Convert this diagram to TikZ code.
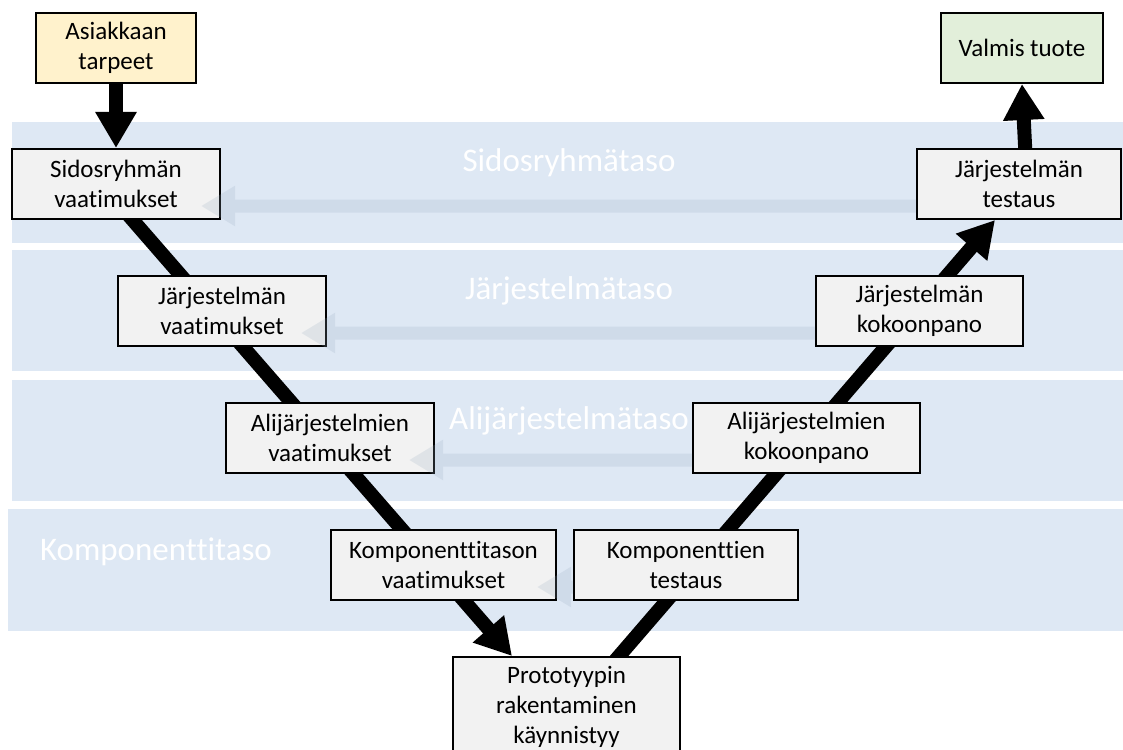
\documentclass[tikz,border=0pt]{standalone}
\usepackage{fontspec}
\setmainfont{Carlito}[Ligatures=NoCommon]
\usetikzlibrary{arrows.meta,calc}
\definecolor{band}{RGB}{222,232,244}
\definecolor{boxgray}{RGB}{242,242,242}
\definecolor{yel}{RGB}{255,242,204}
\definecolor{grn}{RGB}{226,239,218}
\definecolor{ghost}{RGB}{150,170,190}
\pgfdeclarelayer{bands}
\pgfdeclarelayer{lines}
\pgfsetlayers{bands,lines,main}
\begin{document}
\begin{tikzpicture}[x=1pt,y=-1pt,
  stage/.style={draw=black,line width=2pt,fill=boxgray,align=center,inner sep=0pt,
    font=\fontsize{25}{30}\selectfont,minimum height=70pt},
  bandrect/.style={fill=band,draw=none},
  bandlabel/.style={text=white,font=\fontsize{33}{38}\selectfont,inner sep=0pt},
  flow/.style={line width=14pt,-{Triangle[length=36pt,width=39pt]}},
  trace/.style={draw=ghost,line width=13pt,-{Triangle[length=34pt,width=38pt]}}
]
\useasboundingbox (0,0) rectangle (1123,749);
% bands
\begin{pgfonlayer}{bands}
\fill[bandrect] (12,122) rectangle (1123,243);
\fill[bandrect] (12,250) rectangle (1123,371);
\fill[bandrect] (12,380) rectangle (1123,501);
\fill[bandrect] (8,509) rectangle (1123,631);
\node[bandlabel] (lb1) at (569,163) {Sidosryhmätaso};
\node[bandlabel] (lb2) at (569,291) {Järjestelmätaso};
\node[bandlabel] (lb3) at (569,421) {Alijärjestelmätaso};
\node[bandlabel] (lb4) at (156,552) {Komponenttitaso};
\end{pgfonlayer}
% boxes
\node[stage,fill=yel,minimum width=160pt] (asi) at (116,48) {Asiakkaan\\tarpeet};
\node[stage,minimum width=208pt] (sid) at (116,184) {Sidosryhmän\\vaatimukset};
\node[stage,fill=grn,minimum width=162pt] (val) at (1022,48) {Valmis tuote};
\node[stage,minimum width=204pt] (jtest) at (1019,184) {Järjestelmän\\testaus};
\node[stage,minimum width=208pt] (jvaat) at (222,311) {Järjestelmän\\vaatimukset};
\node[stage,minimum width=207pt] (jkok) at (919.5,311) {Järjestelmän\\kokoonpano};
\node[stage,minimum width=208pt] (avaat) at (330,438) {Alijärjestelmien\\vaatimukset};
\node[stage,minimum width=227pt] (akok) at (806.5,438) {Alijärjestelmien\\kokoonpano};
\node[stage,minimum width=225pt] (kvaat) at (443.5,565) {Komponenttitason\\vaatimukset};
\node[stage,minimum width=224pt] (ktest) at (686,565) {Komponenttien\\testaus};
\node[stage,minimum width=227pt,minimum height=100pt] (proto) at (566.5,707) {Prototyypin\\rakentaminen\\käynnistyy};
% connectors (behind boxes)
\coordinate (l0) at (117,202);
\coordinate (l1) at (512,656);
\coordinate (r0) at (607,670);
\coordinate (r1) at (995,220);
\coordinate (v0) at (1026,165);
\begin{pgfonlayer}{lines}
\draw[flow] (l0) -- (l1);
\draw[flow] (r0) -- (r1);
\draw[flow] (asi.south) -- (sid.north);
\draw[flow] (v0) -- (val.south);
\end{pgfonlayer}
% faint feedback arrows
\begin{scope}[transparency group,opacity=0.2]
\draw[trace] ($(jtest.west)+(0,22)$) -- ($(sid.east)+(-20,22)$);
\draw[trace] ($(jkok.west)+(0,22)$) -- ($(jvaat.east)+(-26,22)$);
\draw[trace] ($(akok.west)+(0,22)$) -- ($(avaat.east)+(-26,22)$);
\draw[trace] ($(ktest.west)+(0,22)$) -- ($(kvaat.east)+(-20,22)$);
\end{scope}
\end{tikzpicture}
\end{document}
